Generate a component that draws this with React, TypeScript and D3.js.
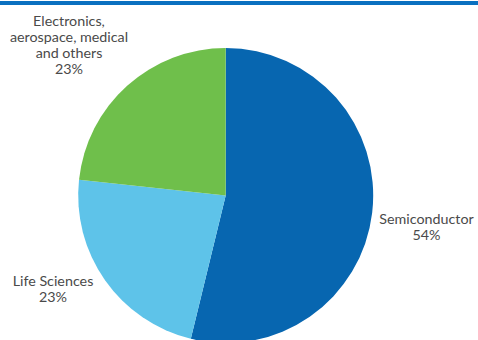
import React from "react";
import * as d3 from "d3";

const categories = ["Semiconductor", "Life Sciences", "Electronics, aerospace, medical and others"];
const values = [53.8, 22.9, 23.3];
const percentLabels = ["54%", "23%", "23%"];
const labelLines = [["Semiconductor", "54%"], ["Life Sciences", "23%"], ["Electronics,", "aerospace, medical", "and others", "23%"]];
const colors = ["#0766b0", "#5ec3e9", "#6fbf4b"];

const W = 478, H = 340;
const cx = 225.7, cy = 195.5, R = 147.5;
const labelPos = [
  { x: 426.5, y: 223.5 },
  { x: 53, y: 285.5 },
  { x: 69, y: 26 },
];

export default function App() {
  const pie = d3.pie<number>().sort(null).value((d) => d)(values);
  const arc = d3.arc<d3.PieArcDatum<number>>().innerRadius(0).outerRadius(R);
  return (
    <svg width={W} height={H} style={{ position: "absolute", left: 0, top: 0, background: "#fff" }}>
      <rect x={0} y={1} width={W} height={4} fill="#0a70c0" />
      <g transform={`translate(${cx},${cy})`}>
        {pie.map((p, i) => (
          <path key={categories[i]} d={arc(p) || ""} fill={colors[i]} />
        ))}
      </g>
      {labelLines.map((lines, i) => (
        <text key={i} x={labelPos[i].x} y={labelPos[i].y} textAnchor="middle" fontFamily="Lato" fontSize={14.3} fill="#4a4a4a">
          {lines.map((l, j) => (
            <tspan key={j} x={labelPos[i].x} dy={j === 0 ? 0 : 16}>
              {j === lines.length - 1 ? percentLabels[i] : l}
            </tspan>
          ))}
        </text>
      ))}
    </svg>
  );
}
